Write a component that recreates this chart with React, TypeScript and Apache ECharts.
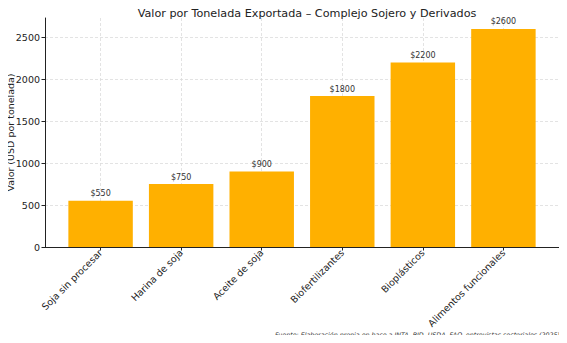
import React, { useEffect, useRef } from "react";
import * as echarts from "echarts";

const categories = [
  "Soja sin procesar",
  "Harina de soja",
  "Aceite de soja",
  "Biofertilizantes",
  "Bioplásticos",
  "Alimentos funcionales",
];
const values = [550, 750, 900, 1800, 2200, 2600];
const yTicks = [0, 500, 1000, 1500, 2000, 2500];

const titleText = "Valor por Tonelada Exportada – Complejo Sojero y Derivados";
const yAxisTitle = "Valor (USD por tonelada)";
const sourceText =
  "Fuente: Elaboración propia en base a INTA, BID, USDA, FAO, entrevistas sectoriales (2025)";

const FONT = "DejaVu Sans";

export default function App() {
  const ref = useRef<HTMLDivElement>(null);
  useEffect(() => {
    if (!ref.current) return;
    const chart = echarts.init(ref.current, undefined, { renderer: "svg" });
    const xIdx = categories.map((_, i) => i);
    chart.setOption({
      animation: false,
      backgroundColor: "#ffffff",
      textStyle: { fontFamily: FONT },
      title: {
        text: titleText,
        left: 302,
        textAlign: "center",
        top: 3,
        textStyle: { fontFamily: FONT, fontSize: 11.2, fontWeight: "normal", color: "#222" },
      },
      graphic: [
        {
          type: "text",
          x: 560,
          y: 334,
          style: {
            text: sourceText,
            fontFamily: FONT,
            fontSize: 6.3,
            fontStyle: "italic",
            fill: "#333",
            align: "right",
            verticalAlign: "middle",
          },
        },
      ],
      grid: {
        left: 45,
        right: 8,
        top: 18,
        bottom: 96,
        containLabel: false,
        outerBoundsMode: "none",
      },
      xAxis: {
        type: "value",
        min: -0.69,
        max: 5.69,
        axisLine: { show: true, onZero: false, lineStyle: { color: "#222", width: 1 } },
        axisTick: {
          show: true,
          customValues: xIdx,
          length: 3.5,
          lineStyle: { color: "#222" },
        },
        axisLabel: {
          customValues: xIdx,
          rotate: 45,
          margin: 4,
          fontFamily: FONT,
          fontSize: 9.5,
          color: "#222",
          formatter: (v: number) => categories[Math.round(v)] ?? "",
        },
        splitLine: {
          show: true,
          lineStyle: { color: "#dcdcdc", type: [3, 2], width: 0.8 },
        },
      },
      yAxis: {
        type: "value",
        min: 0,
        max: 2730,
        name: yAxisTitle,
        nameLocation: "middle",
        nameGap: 30,
        nameMoveOverlap: false,
        nameTextStyle: { fontFamily: FONT, fontSize: 9.5, color: "#222" },
        axisLine: { show: true, onZero: false, lineStyle: { color: "#222", width: 1 } },
        axisTick: {
          show: true,
          customValues: yTicks,
          length: 3.5,
          lineStyle: { color: "#222" },
        },
        axisLabel: {
          customValues: yTicks,
          margin: 5,
          fontFamily: FONT,
          fontSize: 9.5,
          color: "#222",
          formatter: (v: number) => String(v),
        },
        splitLine: {
          show: true,
          lineStyle: { color: "#dcdcdc", type: [3, 2], width: 0.8 },
        },
      },
      series: [
        {
          type: "bar",
          data: values.map((v, i) => [i, v]),
          barWidth: "80%",
          itemStyle: { color: "#ffb000" },
          label: {
            show: true,
            position: "top",
            distance: 3,
            fontFamily: FONT,
            fontSize: 8,
            color: "#333",
            formatter: (p: any) => "$" + p.value[1],
          },
        },
      ],
    });
    return () => chart.dispose();
  }, []);
  return <div ref={ref} style={{ width: 567, height: 343, margin: -8 }} />;
}
